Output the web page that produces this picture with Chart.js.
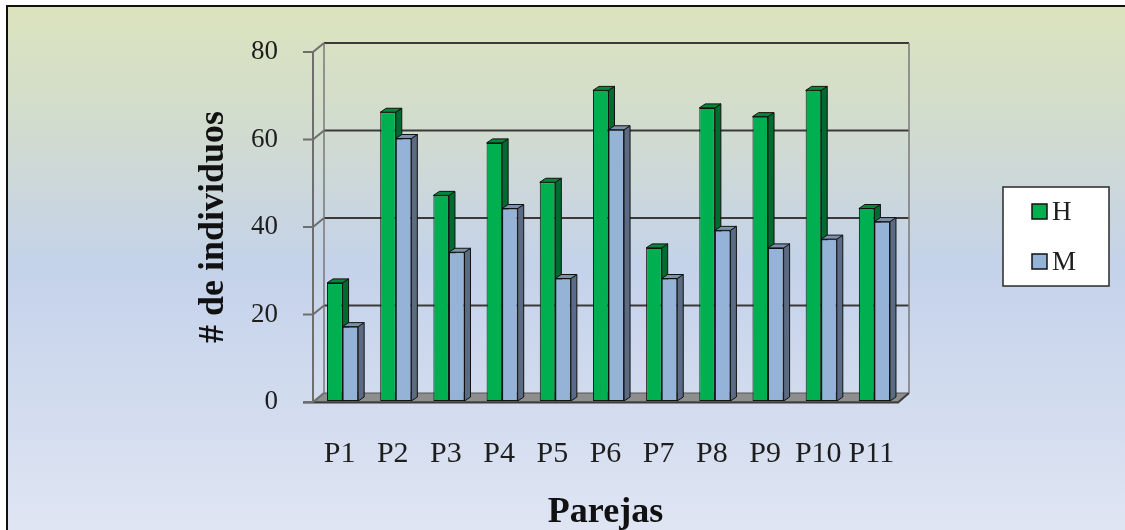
<!DOCTYPE html>
<html>
<head>
<meta charset="utf-8">
<script src="https://cdn.jsdelivr.net/npm/chart.js@4"></script>
<style>
  html, body { margin: 0; padding: 0; background: #ffffff; }
  canvas { display: block; }
</style>
</head>
<body>
<canvas id="chart" width="1125" height="530"></canvas>
<script>
// Parejas P1..P11, número de individuos por sexo
const categories = ['P1', 'P2', 'P3', 'P4', 'P5', 'P6', 'P7', 'P8', 'P9', 'P10', 'P11'];
const hValues = [27, 66, 47, 59, 50, 71, 35, 67, 65, 71, 44];
const mValues = [17, 60, 34, 44, 28, 62, 28, 39, 35, 37, 41];
const seriesNames = ['H', 'M'];
const yMin = 0, yMax = 80, yStep = 20;

const SERIF = "'Liberation Serif', 'Times New Roman', serif";
const GREEN = '#00b050', GREEN_SIDE = '#006b2e', GREEN_TOP = '#00873a';
const BLUE = '#95b3d7', BLUE_SIDE = '#5b6b84', BLUE_TOP = '#7b8fae';

// depth of the floor / back wall relative to the front plane
const WALL_DX = 11, WALL_DY = -9;
// depth of each column
const BAR_DX = 6, BAR_DY = -4;
// columns sit a little behind the front plane
const BAR_SHIFT_X = 3, BAR_SHIFT_Y = -1;

// page background, frame, back wall, floor, side wall and column depth faces
const scenePlugin = {
  id: 'scene',
  beforeDraw(chart) {
    const ctx = chart.ctx;
    const W = chart.width, H = chart.height;
    ctx.save();
    ctx.fillStyle = '#ffffff';
    ctx.fillRect(0, 0, W, H);
    const g = ctx.createLinearGradient(0, 6, 0, H);
    g.addColorStop(0, '#dbe4bd');
    g.addColorStop(0.22, '#d2dccd');
    g.addColorStop(0.5, '#c4d2ea');
    g.addColorStop(1, '#dfe5f3');
    ctx.fillStyle = g;
    ctx.fillRect(7, 6, W - 7, H - 6);
    ctx.strokeStyle = '#111111';
    ctx.lineWidth = 2;
    ctx.beginPath();
    ctx.moveTo(7, H);
    ctx.lineTo(7, 6);
    ctx.lineTo(W, 6);
    ctx.stroke();
    ctx.restore();
  },
  beforeDatasetsDraw(chart) {
    const ctx = chart.ctx;
    const y = chart.scales.y;
    const { left, right } = chart.chartArea;
    const y0 = y.getPixelForValue(yMin);
    const yTop = y.getPixelForValue(yMax);
    ctx.save();

    // floor
    ctx.beginPath();
    ctx.moveTo(left, y0);
    ctx.lineTo(left + WALL_DX, y0 + WALL_DY);
    ctx.lineTo(right + WALL_DX, y0 + WALL_DY);
    ctx.lineTo(right, y0);
    ctx.closePath();
    ctx.fillStyle = '#8e8e8e';
    ctx.fill();
    ctx.strokeStyle = '#555555';
    ctx.lineWidth = 1;
    ctx.stroke();
    ctx.beginPath();
    ctx.moveTo(left - 10, y0 + 0.5);
    ctx.lineTo(right, y0 + 0.5);
    ctx.lineTo(right + WALL_DX, y0 + WALL_DY);
    ctx.strokeStyle = '#3c3c3c';
    ctx.lineWidth = 2;
    ctx.stroke();

    // back wall grid lines
    for (let v = yMin + yStep; v <= yMax; v += yStep) {
      const py = y.getPixelForValue(v) + WALL_DY;
      ctx.beginPath();
      ctx.moveTo(left + WALL_DX, py);
      ctx.lineTo(right + WALL_DX, py);
      ctx.strokeStyle = '#3a3a3a';
      ctx.lineWidth = 2;
      ctx.stroke();
    }

    // back wall edges
    ctx.strokeStyle = '#7a7a7a';
    ctx.lineWidth = 1.5;
    ctx.beginPath();
    ctx.moveTo(left + WALL_DX, yTop + WALL_DY);
    ctx.lineTo(left + WALL_DX, y0 + WALL_DY);
    ctx.moveTo(right + WALL_DX, yTop + WALL_DY);
    ctx.lineTo(right + WALL_DX, y0 + WALL_DY);
    ctx.stroke();

    // side wall: front axis, tick marks and the slanted tick links
    ctx.strokeStyle = '#6e6e6e';
    ctx.lineWidth = 2;
    ctx.beginPath();
    ctx.moveTo(left, yTop);
    ctx.lineTo(left, y0);
    for (let v = yMin; v <= yMax; v += yStep) {
      const py = y.getPixelForValue(v);
      ctx.moveTo(left - 10, py);
      ctx.lineTo(left, py);
      ctx.lineTo(left + WALL_DX, py + WALL_DY);
    }
    ctx.stroke();
    ctx.restore();

    // columns are drawn slightly behind the front plane
    ctx.save();
    ctx.translate(BAR_SHIFT_X, BAR_SHIFT_Y);

    // side and top faces of every column, series by series, under the front faces
    ctx.save();
    ctx.lineWidth = 1;
    ctx.strokeStyle = '#111111';
    ctx.lineJoin = 'round';
    chart.data.datasets.forEach((ds, i) => {
      const meta = chart.getDatasetMeta(i);
      meta.data.forEach(bar => {
        const p = bar.getProps(['x', 'y', 'base', 'width'], true);
        const l = p.x - p.width / 2, r = p.x + p.width / 2;
        ctx.beginPath();
        ctx.moveTo(r, p.y);
        ctx.lineTo(r + BAR_DX, p.y + BAR_DY);
        ctx.lineTo(r + BAR_DX, p.base + BAR_DY);
        ctx.lineTo(r, p.base);
        ctx.closePath();
        ctx.fillStyle = ds.sideColor;
        ctx.fill();
        ctx.stroke();
        ctx.beginPath();
        ctx.moveTo(l, p.y);
        ctx.lineTo(l + BAR_DX, p.y + BAR_DY);
        ctx.lineTo(r + BAR_DX, p.y + BAR_DY);
        ctx.lineTo(r, p.y);
        ctx.closePath();
        ctx.fillStyle = ds.topColor;
        ctx.fill();
        ctx.stroke();
      });
    });
    ctx.restore();
  },
  afterDatasetsDraw(chart) {
    chart.ctx.restore();
  }
};

// boxed legend on the right
const boxLegendPlugin = {
  id: 'boxLegend',
  afterDraw(chart) {
    const ctx = chart.ctx;
    const bx = 1003, by = 187, bw = 106, bh = 99;
    ctx.save();
    ctx.fillStyle = '#ffffff';
    ctx.fillRect(bx, by, bw, bh);
    ctx.strokeStyle = '#2a2a2a';
    ctx.lineWidth = 1.5;
    ctx.strokeRect(bx, by, bw, bh);
    ctx.font = '27px ' + SERIF;
    ctx.textBaseline = 'middle';
    ctx.textAlign = 'left';
    chart.data.datasets.forEach((ds, i) => {
      const cy = 212 + i * 50;
      ctx.fillStyle = ds.backgroundColor;
      ctx.fillRect(1032, cy - 8, 15, 15);
      ctx.strokeStyle = '#111111';
      ctx.lineWidth = 1.5;
      ctx.strokeRect(1032, cy - 8, 15, 15);
      ctx.fillStyle = '#1e1e1e';
      ctx.fillText(ds.label, 1052, cy + 1);
    });
    ctx.restore();
  }
};

new Chart(document.getElementById('chart'), {
  type: 'bar',
  data: {
    labels: categories,
    datasets: [
      {
        label: seriesNames[0],
        data: hValues,
        backgroundColor: GREEN,
        sideColor: GREEN_SIDE,
        topColor: GREEN_TOP,
        borderColor: '#111111',
        borderWidth: 1,
        borderSkipped: false,
        clip: false
      },
      {
        label: seriesNames[1],
        data: mValues,
        backgroundColor: BLUE,
        sideColor: BLUE_SIDE,
        topColor: BLUE_TOP,
        borderColor: '#111111',
        borderWidth: 1,
        borderSkipped: false,
        clip: false
      }
    ]
  },
  options: {
    responsive: false,
    devicePixelRatio: 1,
    animation: false,
    layout: { padding: { top: 52, right: 227, left: 0, bottom: 0 } },
    categoryPercentage: 0.585,
    barPercentage: 1,
    plugins: {
      legend: { display: false },
      tooltip: { enabled: false }
    },
    scales: {
      x: {
        grid: { display: false, drawTicks: false },
        border: { display: false },
        ticks: {
          autoSkip: false,
          maxRotation: 0,
          padding: 34,
          color: '#1e1e1e',
          font: { family: SERIF, size: 30 }
        },
        title: {
          display: true,
          text: 'Parejas',
          color: '#111111',
          padding: { top: 0, bottom: -4 },
          font: { family: SERIF, size: 36, weight: 'bold' }
        },
        afterFit(scale) { scale.height = 128; }
      },
      y: {
        min: yMin,
        max: yMax,
        grid: { display: false, drawTicks: false },
        border: { display: false },
        ticks: {
          stepSize: yStep,
          padding: 35,
          color: '#1e1e1e',
          font: { family: SERIF, size: 27 }
        },
        title: {
          display: true,
          text: '# de individuos',
          color: '#111111',
          padding: { top: 192, bottom: 0 },
          font: { family: SERIF, size: 36, weight: 'bold' }
        },
        afterFit(scale) { scale.width = 313; }
      }
    }
  },
  plugins: [scenePlugin, boxLegendPlugin]
});
</script>
</body>
</html>
